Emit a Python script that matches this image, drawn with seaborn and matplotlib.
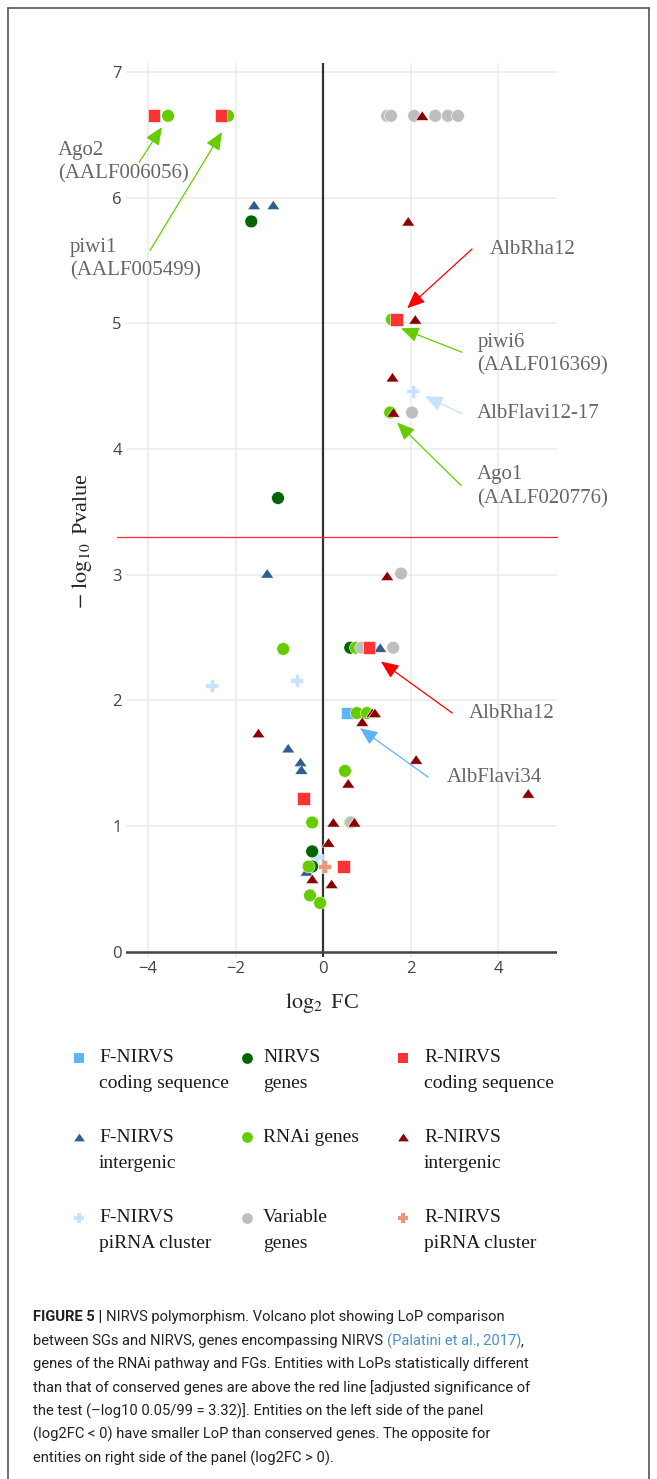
import matplotlib
matplotlib.use('Agg')
import matplotlib.pyplot as plt
import seaborn as sns
import pandas as pd
from matplotlib.lines import Line2D

# groups in drawing order (later ones sit on top)
groups = ['F-NIRVS coding sequence', 'F-NIRVS intergenic', 'F-NIRVS piRNA cluster',
          'NIRVS genes', 'RNAi genes', 'Variable genes',
          'R-NIRVS coding sequence', 'R-NIRVS intergenic', 'R-NIRVS piRNA cluster']

f_cds_fc = [0.55]
f_cds_p = [1.90]

f_inter_fc = [-1.58, -1.14, -1.28, 1.30, -0.80, -0.52, -0.50, -0.38]
f_inter_p = [5.94, 5.94, 3.01, 2.42, 1.62, 1.51, 1.45, 0.64]

f_pirna_fc = [2.05, -2.54, -0.60, -0.15]
f_pirna_p = [4.46, 2.12, 2.16, 0.76]

nirvs_fc = [-1.64, -1.03, 0.62, -0.25, -0.25]
nirvs_p = [5.81, 3.61, 2.42, 0.80, 0.68]

rnai_fc = [-3.54, -2.17, 1.57, 1.53, -0.91, 0.75, 0.77, 1.00, 0.50, -0.25, 0.62, -0.33, -0.30, -0.07]
rnai_p = [6.65, 6.65, 5.03, 4.29, 2.41, 2.42, 1.90, 1.90, 1.44, 1.03, 1.03, 0.68, 0.45, 0.39]

var_fc = [1.46, 1.55, 2.08, 2.56, 2.85, 3.08, 2.03, 1.78, 0.87, 1.60, 0.64]
var_p = [6.65, 6.65, 6.65, 6.65, 6.65, 6.65, 4.29, 3.01, 2.42, 2.42, 1.03]

r_cds_fc = [-3.86, -2.33, 1.67, 1.05, -0.45, 0.46]
r_cds_p = [6.65, 6.65, 5.03, 2.42, 1.22, 0.68]

r_inter_fc = [2.26, 1.94, 2.10, 1.58, 1.60, 1.46, 1.12, 1.18, 0.89, 2.12, 0.57, 4.68,
              -1.48, 0.23, 0.71, 0.12, -0.25, 0.19]
r_inter_p = [6.65, 5.81, 5.03, 4.57, 4.29, 2.99, 1.90, 1.90, 1.83, 1.53, 1.34, 1.26,
             1.74, 1.03, 1.03, 0.87, 0.58, 0.54]

r_pirna_fc = [0.03]
r_pirna_p = [0.68]

threshold = 3.3

x_ticks = [-4, -2, 0, 2, 4]
x_tick_labels = ['\u22124', '\u22122', '0', '2', '4']
y_ticks = [0, 1, 2, 3, 4, 5, 6, 7]

legend_labels = [('F-NIRVS', 'coding sequence'), ('F-NIRVS', 'intergenic'), ('F-NIRVS', 'piRNA cluster'),
                 ('NIRVS', 'genes'), ('RNAi genes', ''), ('Variable', 'genes'),
                 ('R-NIRVS', 'coding sequence'), ('R-NIRVS', 'intergenic'), ('R-NIRVS', 'piRNA cluster')]

# (text, text x, text y, arrow tail, arrow tip, colour)
annotations = [
    ('Ago2\n(AALF006056)', -6.05, 6.28, (-4.20, 6.28), (-3.68, 6.56), '#66cc00'),
    ('piwi1\n(AALF005499)', -5.78, 5.51, (-3.95, 5.58), (-2.31, 6.52), '#66cc00'),
    ('AlbRha12', 3.81, 5.59, (3.40, 5.59), (1.92, 5.12), '#ff0000'),
    ('piwi6\n(AALF016369)', 3.52, 4.75, (3.17, 4.77), (1.78, 4.96), '#66cc00'),
    ('AlbFlavi12-17', 3.52, 4.28, (3.17, 4.28), (2.33, 4.42), '#c6e2ff'),
    ('Ago1\n(AALF020776)', 3.52, 3.70, (3.15, 3.71), (1.69, 4.21), '#66cc00'),
    ('AlbRha12', 3.33, 1.90, (2.95, 1.90), (1.32, 2.31), '#ff0000'),
    ('AlbFlavi34', 2.83, 1.39, (2.40, 1.39), (0.84, 1.78), '#5fb4f5'),
]

palette = {'F-NIRVS coding sequence': '#5fb4f5', 'F-NIRVS intergenic': '#2e5e8c',
           'F-NIRVS piRNA cluster': '#c6e2ff', 'NIRVS genes': '#006400',
           'RNAi genes': '#66cc00', 'Variable genes': '#bebebe',
           'R-NIRVS coding sequence': '#ff3333', 'R-NIRVS intergenic': '#8b0000',
           'R-NIRVS piRNA cluster': '#e9967a'}
tri = [(0, 0.72), (-1, -0.72), (1, -0.72)]
markers = {'F-NIRVS coding sequence': 's', 'F-NIRVS intergenic': tri,
           'F-NIRVS piRNA cluster': 'P', 'NIRVS genes': 'o', 'RNAi genes': 'o',
           'Variable genes': 'o', 'R-NIRVS coding sequence': 's',
           'R-NIRVS intergenic': tri, 'R-NIRVS piRNA cluster': 'P'}

series = [(f_cds_fc, f_cds_p), (f_inter_fc, f_inter_p), (f_pirna_fc, f_pirna_p),
          (nirvs_fc, nirvs_p), (rnai_fc, rnai_p), (var_fc, var_p),
          (r_cds_fc, r_cds_p), (r_inter_fc, r_inter_p), (r_pirna_fc, r_pirna_p)]
df = pd.concat([pd.DataFrame({'log2fc': fc, 'pval': p, 'group': g})
                for g, (fc, p) in zip(groups, series)], ignore_index=True)

sns.set_style('whitegrid', {'grid.color': '#ebebeb'})
plt.rcParams['font.family'] = ['Liberation Serif', 'DejaVu Serif']
plt.rcParams['mathtext.fontset'] = 'stix'

W, H = 657, 1479
fig = plt.figure(figsize=(W / 100, H / 100), dpi=100)
ax = fig.add_axes([126 / W, 1 - 957 / H, 431 / W, 894 / H])

sns.scatterplot(data=df, x='log2fc', y='pval', hue='group', style='group',
                hue_order=groups, style_order=groups, palette=palette, markers=markers,
                s=85, linewidth=0.4, edgecolor='white', legend=False, ax=ax, zorder=3)

ax.set_xlim(-4.5, 5.34)
ax.set_ylim(-0.04, 7.07)
ax.set_xticks(x_ticks)
ax.set_xticklabels(x_tick_labels)
ax.set_yticks(y_ticks)
ax.set_xlabel('')
ax.set_ylabel('')
for sp in ax.spines.values():
    sp.set_visible(False)
ax.grid(True, color='#ebebeb', lw=1.1)
ax.tick_params(length=0, labelsize=12, labelcolor='#444444', pad=3)
for lab in ax.get_xticklabels() + ax.get_yticklabels():
    lab.set_fontfamily('Open Sans')
ax.axvline(0, color='#333333', lw=1.6, zorder=2)
ax.axhline(0, color='#444444', lw=1.8, zorder=2)
ax.axhline(threshold, xmin=-0.02, xmax=1.0, color='#ff2a2a', lw=0.9, zorder=2, clip_on=False)

for text, tx, ty, tail, tip, col in annotations:
    ax.annotate('', xy=tip, xytext=tail, annotation_clip=False,
                arrowprops=dict(arrowstyle='-|>,head_length=0.6,head_width=0.26',
                                color=col, lw=0.9, shrinkA=0, shrinkB=0, mutation_scale=18),
                zorder=4)
    ax.text(tx, ty, text, ha='left', va='center', fontsize=15, color='#666666',
            linespacing=1.3, zorder=4)

fig.text(322 / W, 1 - 1003 / H, r'$\log_2$ FC', ha='center', va='center', fontsize=16, color='#222222')
fig.text(82 / W, 1 - 541 / H, r'$-\ \log_{10}$ Pvalue', ha='center', va='center',
         rotation=90, fontsize=16, color='#222222')

# legend, laid out row by row like the original
lax = fig.add_axes([0, 0, 1, 1])
lax.set_xlim(0, W)
lax.set_ylim(H, 0)
lax.axis('off')
col_mark_x = [79, 247, 403]
col_text_x = [99, 263, 424]
row_y = [1058, 1137, 1218]
for i, g in enumerate(groups):
    c, r = i // 3, i % 3
    lax.scatter([col_mark_x[c]], [row_y[r]], marker=markers[g], color=palette[g], s=60, lw=0)
    l1, l2 = legend_labels[i]
    lax.text(col_text_x[c], row_y[r], l1, ha='left', va='center', fontsize=14, color='#1a1a1a')
    if l2:
        lax.text(col_text_x[c], row_y[r] + 26, l2, ha='left', va='center', fontsize=14, color='#1a1a1a')

# frame around the figure panel
frame_kw = dict(transform=fig.transFigure, color='#555555', lw=1.2)
fig.add_artist(Line2D([8 / W, 8 / W], [0, 1 - 8 / H], **frame_kw))
fig.add_artist(Line2D([8 / W, 649 / W], [1 - 8 / H, 1 - 8 / H], **frame_kw))
fig.add_artist(Line2D([649 / W, 649 / W], [0, 1 - 8 / H], **frame_kw))

# caption
cap_kw = dict(fontsize=10.6, color='#222222', family=['Roboto', 'DejaVu Sans'], va='center', ha='left')
renderer = fig.canvas.get_renderer()


def text_width(s, **kw):
    t = fig.text(0, 0, s, **{**cap_kw, **kw})
    w = t.get_window_extent(renderer).width
    t.remove()
    return w


space = text_width('a a') - text_width('aa')


def runs(x_px, y_px, parts):
    x = x_px
    for s, kw in parts:
        lead = len(s) - len(s.lstrip(' '))
        x += lead * space
        t = fig.text(x / W, 1 - y_px / H, s.strip(' '), **{**cap_kw, **kw})
        x = t.get_window_extent(renderer).x1
        x += (len(s) - len(s.rstrip(' '))) * space


cap_y = [1317, 1341, 1364, 1388, 1411, 1434, 1458]
cap_x = 33
runs(cap_x, cap_y[0], [('FIGURE 5 |', dict(weight='bold')),
                       (' NIRVS polymorphism. Volcano plot showing LoP comparison', {})])
runs(cap_x, cap_y[1], [('between SGs and NIRVS, genes encompassing NIRVS ', {}),
                       ('(Palatini et al., 2017)', dict(color='#4a8fd0')), (',', {})])
plain = ['genes of the RNAi pathway and FGs. Entities with LoPs statistically different',
         'than that of conserved genes are above the red line [adjusted significance of',
         'the test (\u2013log10 0.05/99 = 3.32)]. Entities on the left side of the panel',
         '(log2FC < 0) have smaller LoP than conserved genes. The opposite for',
         'entities on right side of the panel (log2FC > 0).']
for line, y in zip(plain, cap_y[2:]):
    runs(cap_x, y, [(line, {})])

fig.savefig('out.png', dpi=100)
